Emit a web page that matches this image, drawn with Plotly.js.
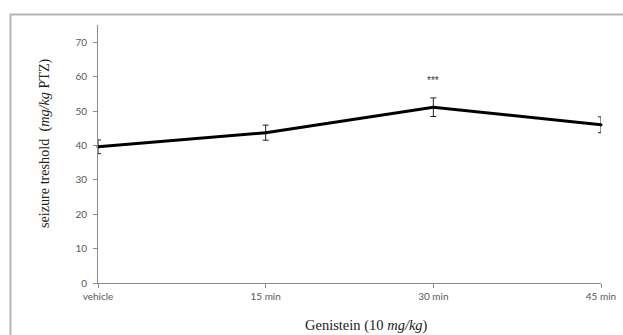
<!DOCTYPE html>
<html>
<head>
<meta charset="utf-8">
<script src="https://cdn.plot.ly/plotly-3.0.1.min.js"></script>
<style>
html,body{margin:0;padding:0;background:#fff;}
#chart{width:623px;height:335px;}
</style>
</head>
<body>
<div id="chart"></div>
<script>
const categories = ["vehicle", "15 min", "30 min", "45 min"];
const threshold = [39.6, 43.7, 51.1, 46.0];
const sem = [2.0, 2.2, 2.7, 2.3];
const significance = ["", "", "***", ""];
const yTicks = [0, 10, 20, 30, 40, 50, 60, 70];
const xTitle = "Genistein (10 <i>mg/kg</i>)";
const yTitle = "seizure treshold  (<i>mg/kg</i> PTZ)";

const trace = {
  x: categories,
  y: threshold,
  type: "scatter",
  mode: "lines+markers",
  line: {color: "#000", width: 3},
  marker: {color: "#000", size: 3},
  error_y: {type: "data", array: sem, visible: true, color: "#222", thickness: 1, width: 3},
  cliponaxis: false,
  hoverinfo: "skip"
};

const titleFont = {family: "Liberation Serif, Times New Roman, serif", size: 14.5, color: "#222"};
const annotations = [
  {xref: "paper", yref: "paper", x: 0.533, y: -0.163, yanchor: "middle", xanchor: "center",
   text: xTitle, showarrow: false, font: titleFont},
  {xref: "paper", yref: "paper", x: -0.105, y: 0.543, yanchor: "middle", xanchor: "center",
   text: yTitle, textangle: -90, showarrow: false, font: Object.assign({}, titleFont, {size: 14.2})}
];
categories.forEach((c, i) => {
  if (significance[i]) {
    annotations.push({
      x: c, y: threshold[i] + sem[i] + 5.0, xref: "x", yref: "y",
      text: significance[i], showarrow: false,
      font: {family: "Liberation Sans, Arial", size: 10, color: "#333"}
    });
  }
});

const tickFont = {family: "Lato, Open Sans, sans-serif", size: 10, color: "#595959"};
const layout = {
  width: 623, height: 335,
  margin: {l: 98, r: 22, t: 25, b: 52, pad: 0},
  paper_bgcolor: "#fff", plot_bgcolor: "#fff",
  showlegend: false,
  xaxis: {
    type: "category",
    range: [0, 3],
    showgrid: false, zeroline: false,
    showline: true, linecolor: "#8c8c8c", linewidth: 1,
    ticks: "outside", ticklen: 4, tickcolor: "#8c8c8c",
    tickfont: tickFont,
    fixedrange: true
  },
  yaxis: {
    range: [0, 75],
    tickvals: yTicks,
    showgrid: false, zeroline: false,
    showline: true, linecolor: "#8c8c8c", linewidth: 1,
    ticks: "outside", ticklen: 4, tickcolor: "#8c8c8c",
    ticklabelstandoff: 4,
    tickfont: tickFont,
    fixedrange: true
  },
  annotations: annotations,
  shapes: [{
    type: "rect", xref: "paper", yref: "paper",
    x0: -0.174, x1: 1.1, y0: -0.25, y1: 1.0407,
    line: {color: "#b5b5b5", width: 2}, fillcolor: "rgba(0,0,0,0)", layer: "below"
  }]
};

Plotly.newPlot("chart", [trace], layout, {displayModeBar: false, staticPlot: true});
</script>
</body>
</html>
